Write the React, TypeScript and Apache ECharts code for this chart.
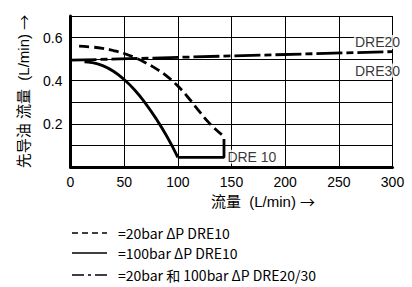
import React, { useEffect, useRef } from "react";
import * as echarts from "echarts";

const xTicks = [0, 50, 100, 150, 200, 250, 300];
const yGrid = [0.1, 0.2, 0.3, 0.4, 0.5, 0.6, 0.7];
const yLabelShown = [0.2, 0.4, 0.6];

// 20bar ΔP DRE10 (dashed)
const dre10Low: [number, number][] = [
  [8, 0.56], [20, 0.556], [30, 0.55], [40, 0.54], [50, 0.526], [60, 0.507],
  [70, 0.483], [80, 0.455], [90, 0.42], [100, 0.375], [110, 0.32],
  [120, 0.258], [130, 0.2], [141, 0.15],
];
// 100bar ΔP DRE10 (solid) curve part
const dre10HighCurve: [number, number][] = [
  [13, 0.487], [20, 0.484], [30, 0.47], [40, 0.444], [50, 0.405], [60, 0.356],
  [70, 0.294], [80, 0.222], [90, 0.14], [100, 0.045],
];
// 100bar ΔP DRE10 (solid) step part
const dre10HighStep: [number, number][] = [
  [100, 0.045], [143, 0.045], [143, 0.13],
];
// 20bar & 100bar ΔP DRE20/30 (dash-dot)
const dre2030: [number, number][] = [
  [0, 0.495], [300, 0.535],
];
// curve labels
const curveLabels: { name: string; value: [number, number] }[] = [
  { name: "DRE20", value: [286, 0.58] },
  { name: "DRE30", value: [286, 0.447] },
  { name: "DRE 10", value: [169, 0.047] },
];
const legendItems = [
  { text: "=20bar ΔP DRE10", dash: [6, 4] },
  { text: "=100bar ΔP DRE10", dash: null },
  { text: "=20bar 和 100bar ΔP DRE20/30", dash: [12, 4, 3, 4] },
];

const LATIN = "'Liberation Sans', Arial, 'Noto Sans CJK SC', sans-serif";
const CJK = "'Noto Sans CJK SC', sans-serif";

export default function App() {
  const ref = useRef<HTMLDivElement>(null);
  useEffect(() => {
    document.body.style.margin = "0";
    if (!ref.current) return;
    const chart = echarts.init(ref.current, undefined, { renderer: "svg" });
    const lineStyleBase = { color: "#000", width: 2.8 };
    const legendGraphics: any[] = [];
    const rowsY = [233, 253, 275];
    legendItems.forEach((it, i) => {
      legendGraphics.push({
        type: "line",
        shape: { x1: 72, y1: rowsY[i], x2: 107, y2: rowsY[i] },
        style: { stroke: "#000", lineWidth: 1.5, lineDash: it.dash || undefined },
      });
      legendGraphics.push({
        type: "text",
        x: 118,
        y: rowsY[i],
        style: {
          text: it.text,
          font: `14px ${CJK}`,
          fill: "#000",
          verticalAlign: "middle",
        },
      });
    });
    const nameRich = {
      a: { fontFamily: LATIN, fontSize: 15, color: "#000" },
      b: { fontFamily: CJK, fontSize: 15, color: "#000" },
    };
    const gridLines = [
      ...xTicks.filter((v) => v > 0).map((v) => ({ xAxis: v })),
      ...yGrid.map((v) => ({ yAxis: v })),
    ];
    chart.setOption({
      animation: false,
      grid: { left: 70.5, right: 19.5, top: 16, bottom: 120, containLabel: false },
      xAxis: {
        type: "value",
        min: 0,
        max: 300,
        interval: 50,
        name: "{a|流量  (L/min) }{b|→}",
        nameLocation: "middle",
        nameGap: 25,
        nameTextStyle: { padding: [0, 0, 0, 63], rich: nameRich },
        axisLine: { show: true, onZero: false, lineStyle: { color: "#000", width: 3 } },
        axisTick: { show: false },
        axisLabel: {
          color: "#000",
          fontFamily: LATIN,
          fontSize: 14,
          margin: 8,
          formatter: (v: number) => (xTicks.includes(v) ? String(v) : ""),
        },
        splitLine: { show: false },
      },
      yAxis: {
        type: "value",
        min: 0,
        max: 0.7,
        interval: 0.1,
        name: "{a|先导油 流量  (L/min) }{b|→}",
        nameLocation: "middle",
        nameRotate: 90,
        nameGap: 40,
        nameTextStyle: { rich: nameRich },
        axisLine: { show: true, onZero: false, lineStyle: { color: "#000", width: 3 } },
        axisTick: { show: false },
        axisLabel: {
          color: "#000",
          fontFamily: LATIN,
          fontSize: 14,
          margin: 8,
          formatter: (v: number) => {
            const r = Math.round(v * 10) / 10;
            return yLabelShown.some((s) => Math.abs(s - r) < 1e-6) ? r.toFixed(1) : "";
          },
        },
        splitLine: { show: false },
      },
      series: [
        {
          type: "line",
          data: dre2030,
          symbol: "none",
          lineStyle: { ...lineStyleBase, type: [26, 4, 7, 4] },
          z: 3,
          markLine: {
            silent: true,
            symbol: "none",
            label: { show: false },
            lineStyle: { color: "#000", width: 1, type: "solid", opacity: 1 },
            emphasis: { disabled: true },
            data: gridLines,
            z: 1,
          },
        },
        {
          type: "line",
          data: dre10Low,
          smooth: true,
          symbol: "none",
          lineStyle: { ...lineStyleBase, type: [10, 5] },
          z: 3,
        },
        {
          type: "line",
          data: dre10HighCurve,
          smooth: true,
          symbol: "none",
          lineStyle: { ...lineStyleBase },
          z: 3,
        },
        {
          type: "line",
          data: dre10HighStep,
          symbol: "none",
          lineStyle: { ...lineStyleBase },
          z: 3,
        },
        {
          type: "scatter",
          data: curveLabels,
          symbolSize: 1,
          itemStyle: { color: "transparent" },
          z: 5,
          label: {
            show: true,
            position: "inside",
            formatter: (p: any) => p.name,
            color: "#000",
            fontFamily: LATIN,
            fontSize: 14,
            backgroundColor: "#fff",
            padding: [0, 1],
          },
        },
      ],
      graphic: legendGraphics,
    });
    return () => chart.dispose();
  }, []);
  return <div ref={ref} style={{ width: 412, height: 287 }} />;
}
